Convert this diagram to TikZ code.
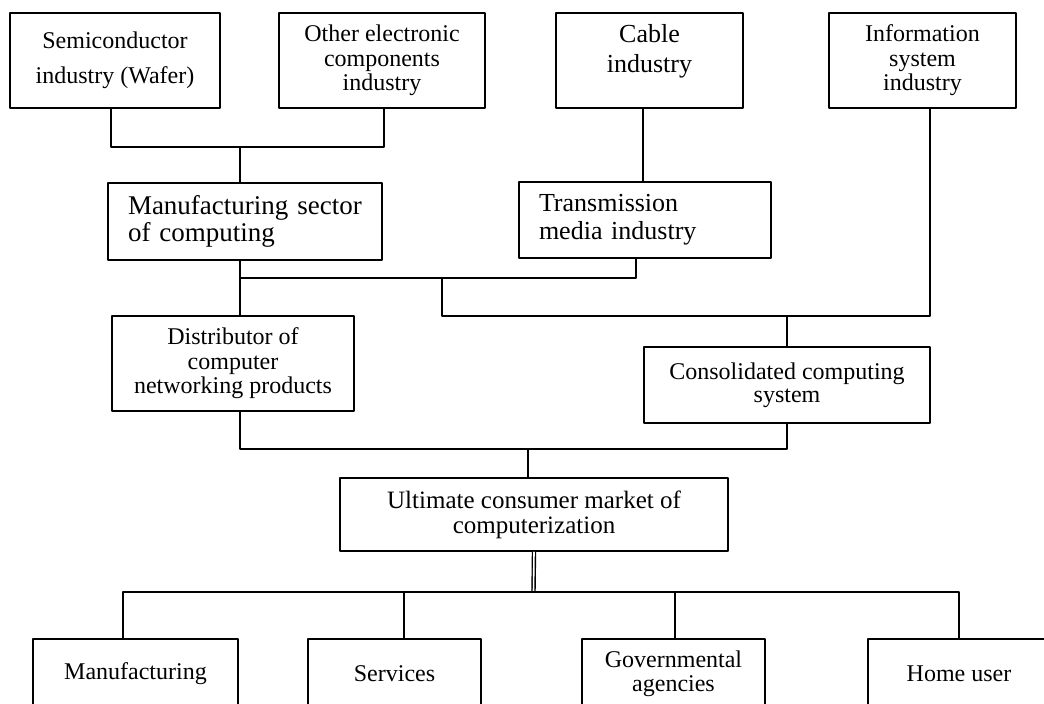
\documentclass[tikz,border=0pt]{standalone}
\usepackage{fontspec}
\setmainfont{Liberation Serif}
\begin{document}
\begin{tikzpicture}[x=1pt,y=-1pt,line join=round,line width=1.5pt,
	font=\fontsize{24}{24.5}\selectfont,
	box/.style={draw,line width=1.5pt,align=center,inner sep=2pt},
	lbox/.style={box,align=left,inner xsep=20pt}]
	\useasboundingbox (0,0) rectangle (1044,704);
	% upper row of industries
	\node[box,minimum width=210pt,minimum height=95pt] (semi) at (115,60.5) {Semiconductor\\[11pt]industry (Wafer)};
	\node[box,minimum width=206pt,minimum height=95pt] (other) at (382,60.5) {Other electronic\\components\\industry};
	\node[box,minimum width=187pt,minimum height=95pt,font=\fontsize{26}{30}\selectfont] (cable) at (649.5,60.5) {Cable\\industry\\[-5pt]};
	\node[box,minimum width=187pt,minimum height=95pt] (info) at (922.5,60.5) {Information\\system\\industry};
	% sectors
	\node[lbox,text width=234pt,minimum height=77pt,font=\fontsize{27}{27}\selectfont] (mfg) at (245,221.5) {Manufacturing sector\\of computing};
	\node[lbox,text width=212pt,minimum height=76pt,font=\fontsize{26}{28}\selectfont] (trans) at (645,220) {Transmission\\media industry};
	\node[box,minimum width=242pt,minimum height=95pt] (dist) at (233,363.5) {Distributor of\\computer\\networking products};
	\node[box,minimum width=286pt,minimum height=76pt,font=\fontsize{24}{23}\selectfont] (cons) at (787,385) {Consolidated computing\\system};
	\node[box,minimum width=388pt,minimum height=73pt,font=\fontsize{25}{25}\selectfont] (ult) at (534,514.5) {Ultimate consumer market of\\computerization};
	% consumers
	\node[box,minimum width=205pt,minimum height=70pt] (manu) at (135.5,674) {Manufacturing};
	\node[box,minimum width=173pt,minimum height=70pt] (serv) at (394.5,674) {Services};
	\node[box,minimum width=183pt,minimum height=70pt] (gov) at (673.5,674) {Governmental\\agencies};
	\node[box,minimum width=182pt,minimum height=70pt] (home) at (959,674) {Home user};
	% junctions
	\coordinate (j1) at (240,147);
	\coordinate (j2) at (240,278);
	\coordinate (j3) at (636,278);
	\coordinate (j4) at (442,278);
	\coordinate (j5) at (930,316);
	\coordinate (j6) at (240,449);
	\coordinate (j7) at (528,449);
	\coordinate (j8) at (533.5,592);
	% connectors
	\draw ([xshift=-4pt]semi.south) |- (j1) -| ([xshift=2pt]other.south);
	\draw (j1) -- (j1 |- mfg.north);
	\draw ([xshift=-6.5pt]cable.south) -- ([xshift=-6.5pt]cable.south |- trans.north);
	\draw (j2 |- mfg.south) -- (j2 |- dist.north);
	\draw (j2) -- (j3) -- (j3 |- trans.south);
	\draw (j4) |- (j5) -- (j5 |- info.south);
	\draw (j5 -| cons.north) -- (cons.north);
	\draw (j6 |- dist.south) -- (j6) -| (cons.south);
	\draw (j7) -- (j7 |- ult.north);
	\draw[double,double distance=1.6pt,line width=1.4pt] (ult.south) -- (j8);
	\draw (manu.north -| 123,0) |- (j8) -| (home.north);
	\draw (serv.north -| 404,0) -- (j8 -| 404,0);
	\draw (gov.north -| 675,0) -- (j8 -| 675,0);
\end{tikzpicture}
\end{document}
